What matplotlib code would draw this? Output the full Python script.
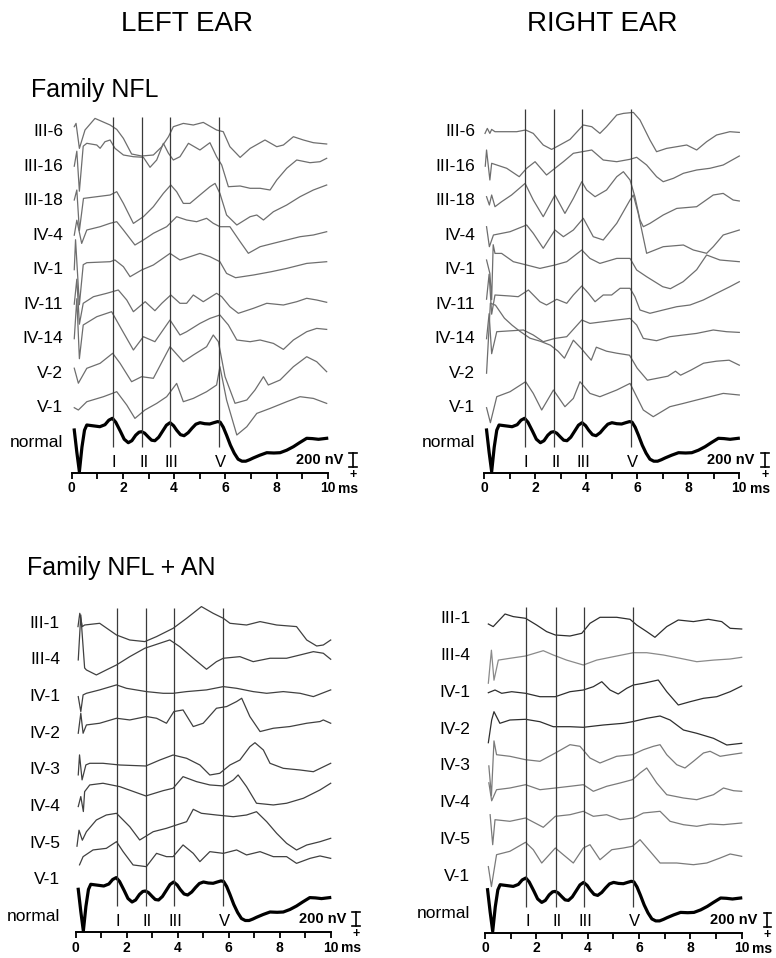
import matplotlib
matplotlib.use("Agg")
import matplotlib.pyplot as plt
from matplotlib.ticker import MultipleLocator

plt.rcParams['font.family'] = ['Liberation Sans', 'DejaVu Sans']

W, H = 776, 958

# ABR wave latencies (ms) and names
wave_ms = [1.6, 2.76, 3.85, 5.77]
wave_names = ["I", "II", "III", "V"]

# amplitudes in display units; 14 units = 200 nV
scale_units = 14

normal_trace = [(0.10, 12.2), (0.20, -10), (0.30, -29.5), (0.40, -5), (0.50, 12), (0.59, 17.2),
                (0.80, 16.5), (1.10, 15.5), (1.30, 17.5), (1.45, 22), (1.59, 23.9), (1.72, 20),
                (1.90, 11), (2.05, 3), (2.21, -0.5), (2.35, 1.5), (2.50, 7), (2.63, 10), (2.73, 10.5),
                (2.85, 9), (3.00, 5), (3.12, 2), (3.25, 1.5), (3.40, 5), (3.55, 11), (3.70, 17),
                (3.84, 19.5), (3.98, 16.5), (4.10, 12), (4.25, 7.5), (4.39, 6.5), (4.55, 9.5),
                (4.70, 14), (4.85, 18), (5.01, 19.5), (5.20, 18.5), (5.39, 18.2), (5.55, 19.5),
                (5.70, 20.6), (5.80, 20), (5.92, 15), (6.05, 7), (6.20, -3), (6.35, -11), (6.50, -17),
                (6.65, -19), (6.80, -19), (6.95, -17.5), (7.09, -15.8), (7.35, -13), (7.62, -10.5),
                (7.90, -10.8), (8.14, -10.5), (8.40, -8), (8.66, -4.5), (8.90, -0.5), (9.18, 3.9),
                (9.40, 3.6), (9.64, 2.9), (9.96, 3.9)]

# ---- Family NFL ----
nfl_ids = ["III-6", "III-16", "III-18", "IV-4", "IV-1", "IV-11", "IV-14", "V-2", "V-1"]

nfl_left = [
    [(0.10, 5), (0.17, 8.3), (0.30, -16.7), (0.52, 1.7), (0.91, 13.3), (1.50, 6.7), (1.76, 2.3),
     (2.02, -6.7), (2.34, -22.3), (2.73, -24.3), (3.19, -23.3), (3.52, -15), (3.78, -5), (3.97, 5),
     (4.36, 8.3), (4.75, 6.7), (5.14, 9.3), (5.66, 1.7), (5.92, 0), (6.18, -15), (6.58, -25.7),
     (6.97, -16.7), (7.55, -8.3), (8.01, -15), (8.27, -13.3), (8.66, -5), (9.05, -8.3), (9.44, -11),
     (9.96, -12.3)],
    [(0.10, 0), (0.20, 15), (0.30, -25), (0.45, 20), (0.59, 22.9), (0.98, 21.2), (1.11, 17.9),
     (1.30, 24.5), (1.50, 26.2), (1.69, 17.9), (2.02, 11.2), (2.41, 9.5), (2.80, 8.9), (3.06, -1.1),
     (3.32, 6.2), (3.58, 22.9), (3.78, 12.9), (3.97, 6.2), (4.23, 9.5), (4.56, 22.9), (5.01, 16.2),
     (5.40, 23.5), (5.66, 9.5), (5.86, 1.2), (6.12, -20.5), (6.58, -19.8), (6.97, -22.1),
     (7.36, -22.1), (7.75, -23.8), (8.01, -13.8), (8.40, -2.1), (8.79, 6.2), (9.31, 3.5),
     (9.70, 4.5), (9.96, 7.9)],
    [(0.10, 0.7), (0.20, 10.7), (0.30, -30), (0.46, 2.3), (0.98, 4), (1.50, 5.7), (1.76, 9),
     (2.02, -2.7), (2.41, -22.7), (2.80, -16), (3.19, -6), (3.58, 7.3), (3.87, 15.7), (4.10, 9),
     (4.36, -2.7), (4.62, -2.7), (5.01, 5.7), (5.40, 14), (5.60, 17.3), (5.79, 7.3), (6.05, -14.3),
     (6.45, -24.3), (6.97, -16), (7.23, -14.3), (7.49, -19.3), (7.88, -11), (8.40, -4.3), (8.92, 4),
     (9.44, 10.7), (9.96, 15.7)],
    [(0.10, 0), (0.20, 15), (0.39, -8.2), (0.59, 5.2), (1.11, 8.5), (1.50, 11.9), (1.76, 13.5),
     (2.02, 5.2), (2.47, -9.8), (2.80, -4.8), (3.19, 1.9), (3.71, 8.5), (4.10, 18.5), (4.49, 15.2),
     (4.88, 13.5), (5.27, 16.9), (5.53, 11.9), (5.79, 8.5), (6.18, 8.5), (6.58, -6.5), (6.90, -18.1),
     (7.36, -11.5), (7.88, -8.1), (8.40, -4.8), (8.92, -1.5), (9.44, 0.2), (9.96, 3.5)],
    [(0.10, 0), (0.15, 30), (0.30, -35), (0.45, 5), (0.59, 7), (1.50, 8), (1.69, 9.7), (2.02, 3),
     (2.28, -7), (2.73, -0.3), (3.19, 4.7), (3.84, 16.3), (4.23, 9.7), (5.01, 16.3), (5.40, 13),
     (5.79, 8), (6.05, -3.7), (6.40, -8), (7.10, -5.3), (7.80, -2), (8.40, 1.3), (9.18, 6.3),
     (9.96, 8)],
    [(0.10, 0), (0.20, 25), (0.30, -20), (0.45, 0.9), (0.85, 7.5), (1.37, 10.9), (1.82, 14.2),
     (2.15, 4.2), (2.41, -7.5), (2.87, 2.5), (3.25, -6.5), (3.52, 0.9), (3.87, 9.2), (4.23, 0.9),
     (4.49, 0.9), (4.75, 9.2), (5.14, 2.5), (5.66, 10.9), (5.86, 7.5), (6.18, -2.5), (6.51, -9.1),
     (7.10, -4.1), (7.62, 0.9), (8.27, -0.8), (8.79, 2.5), (9.18, 5.9), (9.57, 4.2), (9.96, 1.9)],
    [(0.10, 0), (0.20, 40), (0.30, -20), (0.45, 13.7), (0.98, 22), (1.56, 27), (1.89, 12),
     (2.41, -11.3), (2.80, 2), (3.25, -3), (3.84, 18.7), (4.23, 3.7), (4.49, 7), (5.01, 15.3),
     (5.40, 20.3), (5.79, 23.7), (6.12, 13.7), (6.45, -1.3), (6.97, -3), (7.36, -1.3), (7.88, -4.7),
     (8.27, -10.7), (8.66, -1.3), (9.18, 7), (9.57, 10.3), (9.96, 9.3)],
    [(0.10, 5), (0.26, -10), (0.59, 4.9), (1.11, 9.9), (1.60, 19.9), (1.89, 9.9), (2.34, -8.5),
     (2.73, -3.5), (3.19, -5.1), (3.84, 26.5), (4.36, 11.5), (4.75, 18.2), (5.27, 26.5), (5.53, 38.2),
     (5.73, 31.5), (5.99, -3.5), (6.38, -30.1), (6.84, -26.8), (7.16, -16.8), (7.49, -3.5),
     (7.68, -11.8), (8.14, -6.8), (8.66, 6.5), (9.18, 16.5), (9.57, 11.5), (9.96, 1.5)],
    [(0.10, 0), (0.26, -2.3), (0.59, 6), (1.24, 11), (1.76, 16), (2.15, 2.7), (2.47, -10.7),
     (2.86, -2.3), (3.32, 4.3), (3.71, 11), (4.10, 24.3), (4.36, 6), (4.75, 9.3), (5.27, 16),
     (5.66, 22.7), (5.79, 41), (6.05, 7.7), (6.45, -27.3), (6.84, -19), (7.23, -5.7), (7.75, -0.7),
     (8.40, 6), (8.92, 11), (9.44, 9.3), (9.96, 4.3)],
]

nfl_right = [
    [(0.04, -1.7), (0.13, 3.3), (0.23, -1.7), (0.30, 2.3), (0.43, 0), (0.69, 0), (1.28, 0), (1.63, 1.7),
     (1.93, -1.7), (2.32, -13.3), (2.65, -17.7), (2.85, -15), (3.37, -7.7), (3.89, 6.7), (4.22, 5),
     (4.54, -1.7), (4.80, 5), (5.20, 16.7), (5.46, 18.3), (5.85, 19.3), (6.11, 11.7), (6.50, -8.3),
     (6.76, -20), (7.15, -16.7), (7.55, -15), (7.94, -13.3), (8.33, -18.3), (8.72, -10), (9.11, -3.3),
     (9.63, 0), (10.0, -0.7)],
    [(0.05, 0), (0.10, 16.2), (0.23, -13.8), (0.30, 2.9), (0.50, 1.2), (0.89, -2.1), (1.38, -10.5),
     (1.67, -2.1), (2.00, 4.5), (2.45, -8.8), (2.78, -2.1), (3.11, 4.5), (3.50, 12.9), (4.22, 16.2),
     (4.67, 6.2), (5.20, 4.5), (5.72, 6.9), (5.98, 8.9), (6.37, 1.2), (6.76, -10.5), (7.02, -15.5),
     (7.42, -12.1), (7.81, -7.1), (8.33, -3.8), (8.85, -2.1), (9.37, 1.2), (10.0, 10.2)],
    [(0.10, 4), (0.21, -4.3), (0.30, 5.7), (0.43, -6), (0.69, -1), (1.08, 5.7), (1.61, 17.3),
     (1.93, 0.7), (2.32, -16), (2.78, 5.7), (3.17, -12.7), (3.50, 2.3), (3.83, 19), (4.02, 10.7),
     (4.35, 4), (4.80, 10.7), (5.20, 24), (5.46, 29), (5.72, 20.7), (5.91, 4), (6.11, -19.3),
     (6.24, -26), (6.50, -22.7), (7.02, -14.3), (7.55, -7.7), (8.33, -6), (8.98, 5.7), (9.37, 7.3),
     (9.76, 0.7), (10.0, -0.3)],
    [(0.10, 8.5), (0.21, -11.5), (0.37, 0.2), (1.02, 3.5), (1.67, 10.2), (1.93, 1.9), (2.32, -13.1),
     (2.78, 5.2), (3.11, -1.5), (3.50, 5.2), (3.89, 16.9), (4.28, -1.5), (4.67, -4.8), (5.20, 11.9),
     (5.72, 35.2), (5.85, 40.2), (6.04, 21.9), (6.37, -18.1), (7.02, -11.5), (7.81, -9.8),
     (8.20, -14.8), (8.72, -18.1), (8.98, -11.5), (9.37, 0.2), (10.0, 5.2)],
    [(0.10, 9.7), (0.23, -3.7), (0.30, -30), (0.36, 25), (0.43, 16.3), (0.69, 16.3), (1.15, 8),
     (1.67, 4.7), (2.19, 1.3), (2.78, 4.7), (3.24, 8), (3.83, 19.7), (4.15, 11.3), (4.54, 6.3),
     (5.20, 11.3), (5.72, 11.3), (5.98, -0.3), (6.37, -7), (7.00, -17), (7.30, -19), (7.80, -12),
     (8.33, 0), (8.72, 14.7), (9.24, 9.7), (10.0, 8)],
    [(0.10, 5), (0.20, 30), (0.30, -10), (0.43, 9.2), (1.02, 8.2), (1.34, 7.5), (1.74, 14.2),
     (2.19, 2.5), (2.45, -0.8), (2.85, 4.9), (3.24, 0.9), (3.50, 9.2), (3.83, 18.2), (4.09, 10.9),
     (4.35, 2.5), (4.67, 9.2), (5.00, 9.2), (5.33, 15.9), (5.72, 15.9), (5.91, 7.5), (6.11, -5.8),
     (6.50, -9.1), (7.02, -5.8), (7.55, -2.5), (8.07, -0.8), (8.59, 4.2), (9.11, 10.9), (9.63, 17.5),
     (10.0, 22.5)],
    [(0.10, 0), (0.20, 25), (0.30, -15), (0.50, 7), (1.54, 8.7), (1.93, 3.7), (2.32, -3), (2.78, 0.3),
     (3.24, 2), (3.83, 18.7), (4.15, 15.3), (4.67, 17), (5.20, 18.7), (5.72, 20.3), (5.98, 13.7),
     (6.24, 0.3), (6.76, -2), (7.28, 2), (7.81, 3.7), (8.33, 5.3), (8.98, 8.7), (9.50, 7), (10.0, 6.3)],
    [(0.10, 0), (0.25, 70), (0.45, 68), (0.80, 55), (1.10, 48), (1.40, 42), (1.80, 35), (2.20, 32),
     (2.60, 28), (2.90, 22), (3.15, 15), (3.50, 33), (3.80, 25), (4.20, 13), (4.40, 26), (4.80, 22),
     (5.20, 20), (5.70, 18), (6.00, 5), (6.40, -7), (6.80, -5), (7.20, -3), (7.50, 2), (7.70, -2),
     (8.10, 3), (8.60, 10), (9.10, 12), (9.60, 13), (10.0, 8)],
    [(0.10, 0), (0.25, -15), (0.50, 11), (1.02, 16), (1.63, 26), (1.93, 14.3), (2.26, -2.3),
     (2.72, 17.7), (3.17, 1), (3.50, 9.3), (3.76, 26), (4.15, 14.3), (4.54, 11), (5.20, 17.7),
     (5.72, 24.3), (5.98, 11), (6.24, -2.3), (6.63, -9), (7.28, 1), (7.81, 4.3), (8.33, 7.7),
     (8.85, 11), (9.37, 14.3), (10.0, 12.7)],
]

# ---- Family NFL + AN ----
an_ids = ["III-1", "III-4", "IV-1", "IV-2", "IV-3", "IV-4", "IV-5", "V-1"]

an_left = [
    [(0.09, -3.3), (0.16, 10), (0.26, -3.3), (0.35, -1.7), (0.94, 0), (1.60, -11.7), (2.12, -16.7),
     (2.71, -18.3), (3.17, -13.3), (3.82, -5), (4.35, 5), (4.93, 16.7), (5.39, 10), (5.79, 5),
     (6.05, 0), (6.70, -1.7), (7.23, 1.7), (7.88, -1.7), (8.66, -3.3), (9.06, -16.7), (9.45, -22.7),
     (9.71, -21.7), (10.0, -16.7)],
    [(0.10, 0), (0.20, 45), (0.35, -8), (0.42, -10), (0.81, -15), (1.20, -10), (1.60, -5), (2.12, 3.3),
     (2.71, 11.7), (3.30, 16.7), (3.69, 20), (4.08, 13.3), (4.61, 1.7), (5.13, -9.3), (5.52, -1.7),
     (5.79, 1.7), (6.44, 3.3), (6.96, -1.7), (7.62, 1.7), (8.27, 1.7), (8.80, 5), (9.32, 8.3),
     (9.71, 6.7), (10.0, 0.7)],
    [(0.10, 0), (0.20, -15), (0.29, 1.7), (0.42, 3.3), (0.94, 6.7), (1.60, 11.7), (1.99, 8.3),
     (2.77, 5), (3.43, 3.3), (3.82, 3.3), (4.35, 5), (5.13, 6.7), (5.79, 10), (6.31, 8.3), (6.96, 5),
     (7.49, 3.3), (8.14, 5), (8.80, 3.3), (9.32, 0), (10.0, 6.7)],
    [(0.10, 0), (0.20, 20), (0.29, 0), (0.42, 8.3), (0.94, 10), (1.60, 15), (2.12, 13.3), (2.77, 16.7),
     (3.17, 15), (3.56, 10), (3.85, 21.7), (4.21, 23.3), (4.61, 6.7), (5.00, 10), (5.52, 25),
     (5.92, 26.7), (6.31, 31.7), (6.51, 35), (6.83, 16.7), (7.23, 1.7), (7.75, 5), (8.40, 6.7),
     (9.06, 10), (9.58, 11.7), (9.71, 13.3), (10.0, 10)],
    [(0.10, -5), (0.15, 15), (0.25, -10), (0.40, 5), (0.55, 6.6), (1.07, 6.6), (1.73, 4.9), (2.75, 3.9),
     (3.30, 9.9), (3.82, 14.9), (4.35, 11.6), (4.87, 4.9), (5.26, -5.1), (5.65, -3.4), (6.05, 4.9),
     (6.44, 9.9), (6.83, 23.2), (7.03, 27.2), (7.36, 19.9), (7.62, 6.6), (8.14, 1.6), (8.80, -0.1),
     (9.32, -1.8), (10.0, 6.6)],
    [(0.10, 0), (0.20, 10), (0.30, -5), (0.35, 14.9), (0.55, 21.6), (1.07, 23.3), (1.73, 19.9),
     (2.75, 10.6), (3.43, 15.9), (3.82, 18.3), (4.21, 29.9), (4.74, 24.9), (5.26, 21.6), (5.79, 20.6),
     (6.18, 26.6), (6.37, 31.6), (6.70, 19.9), (7.09, 3.3), (7.75, 1.6), (8.27, 3.3), (8.93, 8.3),
     (9.58, 16.6), (10.0, 23.3)],
    [(0.05, -3), (0.13, 13), (0.26, 3), (0.42, 11.5), (0.81, 23.2), (1.20, 28.2), (1.60, 29.9),
     (2.12, 16.5), (2.51, 3.2), (3.04, 11.5), (3.56, 14.9), (3.95, 18.2), (4.35, 21.5), (4.61, 33.9),
     (4.93, 29.9), (5.52, 28.2), (6.18, 26.5), (6.70, 28.2), (7.09, 31.5), (7.49, 21.5), (7.88, 9.9),
     (8.27, -0.1), (8.66, -6.8), (9.06, -1.8), (9.58, 1.5), (10.0, 4.9)],
    [(0.15, 15), (0.29, 23.2), (0.68, 29.9), (1.20, 31.5), (1.60, 38.2), (1.86, 28.2), (2.25, 14.9),
     (2.77, 13.2), (3.17, 26.5), (3.56, 23.2), (3.82, 23.2), (4.21, 34.9), (4.61, 26.5), (4.87, 18.2),
     (5.26, 28.2), (5.79, 26.5), (6.31, 29.9), (6.70, 24.9), (7.23, 28.2), (7.75, 23.2), (8.27, 23.2),
     (8.66, 16.5), (9.19, 21.5), (9.58, 23.9), (10.0, 21.5)],
]

an_right = [
    [(0.13, -5.7), (0.32, -8.3), (0.78, 4.3), (1.10, 1.7), (1.58, 0), (2.01, -6.7), (2.40, -13.3),
     (2.74, -16.7), (3.31, -17.7), (3.77, -15), (4.09, -5), (4.48, 1), (5.13, 1), (5.65, -1),
     (5.91, -6.7), (6.30, -13.3), (6.62, -19), (7.08, -8.3), (7.53, -1.7), (8.12, -3.3), (8.70, -1),
     (9.22, -3.3), (9.55, -10), (10.0, -10.7)],
    [(0.13, -28), (0.25, 5), (0.35, -25), (0.52, -4.9), (0.97, -3.1), (1.58, -0.8), (2.27, 4.5),
     (2.66, 0.2), (3.18, -4.9), (3.83, -9.8), (4.35, -4.9), (5.00, -1.5), (5.78, 2.5), (6.30, 2.5),
     (6.95, 0.2), (7.60, -3.1), (8.25, -6.5), (8.90, -4.9), (9.55, -3.8), (10.0, -2.1)],
    [(0.13, -0.6), (0.39, 2.1), (0.65, -1.2), (1.04, 0.4), (1.58, -1.2), (2.14, -4.6), (2.74, -4.6),
     (3.31, 0.4), (3.83, 2.1), (4.22, 5.4), (4.55, 10.4), (4.87, 2.1), (5.19, -1.9), (5.52, 3.8),
     (5.78, 7.1), (6.17, 8.8), (6.75, 12.1), (7.08, 0.4), (7.53, -12.9), (7.99, -9.6), (8.51, -6.2),
     (9.03, -4.6), (9.55, 0.4), (10.0, 6.1)],
    [(0.13, -13.7), (0.26, 9), (0.35, 17.3), (0.58, 5.7), (0.97, 9), (1.58, 9.7), (2.14, 7.3),
     (2.66, 2.3), (3.31, 2.3), (3.83, 1.7), (4.61, 4), (5.39, 5.7), (5.74, 7.3), (6.30, 10.7),
     (6.82, 13), (7.21, 9), (7.73, -1), (8.25, -4.3), (8.90, -9.3), (9.42, -16), (10.0, -14.3)],
    [(0.15, 0), (0.25, -30), (0.35, 25), (0.45, 11.2), (0.97, 9.6), (1.58, 6.2), (2.14, 4.6),
     (2.74, 12.9), (3.31, 21.2), (3.70, 19.6), (4.09, 7.9), (4.48, 2.9), (5.13, 9.6), (5.74, 11.2),
     (6.17, 16.2), (6.56, 19.6), (6.82, 21.2), (7.08, 11.2), (7.47, 1.2), (7.79, -2.1), (8.12, 4.6),
     (8.51, 12.9), (8.77, 14.6), (9.16, 9.6), (9.55, 11.2), (10.0, 12.9)],
    [(0.15, 20), (0.26, 2), (0.45, 13.1), (0.97, 14.8), (1.58, 18.1), (2.14, 13.1), (2.74, 14.8),
     (3.31, 16.5), (3.83, 18.1), (4.22, 11.5), (4.74, 16.5), (5.26, 19.8), (5.74, 23.1), (6.04, 29.8),
     (6.30, 34.8), (6.69, 19.8), (7.08, 8.1), (7.73, 4.8), (8.25, 3.1), (8.90, 8.1), (9.29, 14.8),
     (9.68, 12.1), (10.0, 11.5)],
    [(0.20, 25), (0.30, -5), (0.39, 20), (0.97, 18.4), (1.58, 21.7), (2.27, 12.4), (2.74, 23.4),
     (3.31, 25), (3.83, 28.4), (4.22, 23.4), (4.74, 25), (5.26, 20), (5.78, 21.7), (6.17, 26.7),
     (6.82, 28.4), (7.21, 18.4), (7.73, 15), (8.25, 13.4), (8.77, 15.7), (9.29, 15), (10.0, 16.7)],
    [(0.13, 10), (0.25, -10), (0.45, 21.9), (0.97, 25.3), (1.58, 34.3), (1.88, 26.9), (2.21, 13.6),
     (2.74, 28.6), (3.05, 21.9), (3.44, 13.6), (3.83, 28.6), (4.09, 31.9), (4.48, 16.9), (4.94, 26.9),
     (5.39, 28.6), (5.74, 30.3), (6.04, 36.9), (6.43, 25.3), (6.82, 13.6), (7.47, 13.6), (8.12, 11.9),
     (8.64, 13.6), (9.16, 18.6), (9.55, 22.6), (10.0, 20.3)],
]

an_right_colors = ["#2e2e2e", "#8a8a8a", "#2e2e2e", "#2e2e2e", "#7a7a7a", "#7a7a7a", "#7a7a7a", "#7a7a7a"]

fig = plt.figure(figsize=(W / 100, H / 100), dpi=100)


def draw_panel(x0, x1, axis_y, ids, traces, colors, label_x, label_top, label_gap,
               normal_label_y, line_top):
    ax = fig.add_axes([x0 / W, 1 - axis_y / H, (x1 - x0) / W, 400 / H])
    ax.set_xlim(0, 10)
    ax.set_ylim(0, 400)
    ax.patch.set_alpha(0)

    for k, (name, pts) in enumerate(zip(ids, traces)):
        base = label_top - k * label_gap
        ax.plot([p[0] for p in pts], [base + p[1] for p in pts], color=colors[k], lw=0.9,
                clip_on=False, solid_joinstyle='round')
        ax.text(label_x, base, name, ha='right', va='center', fontsize=12.5)

    ax.plot([p[0] for p in normal_trace], [30.8 + p[1] for p in normal_trace], color='black',
            lw=2.3, clip_on=False, solid_joinstyle='round')
    ax.text(label_x, normal_label_y, "normal", ha='right', va='center', fontsize=12.5)

    ax.vlines(wave_ms, 26, line_top, color='#3a3a3a', lw=0.9)
    for tm, nm in zip(wave_ms, wave_names):
        ax.text(tm + 0.05, 11, nm, ha='center', va='center', fontsize=12)

    # scale bar
    ax.text(10.6, 13, "200 nV", ha='right', va='center', fontsize=10.5, fontweight='bold')
    ax.plot([11.0, 11.0], [6, 6 + scale_units], color='black', lw=1.2, clip_on=False)
    ax.plot([10.85, 11.15], [6, 6], color='black', lw=1.2, clip_on=False)
    ax.plot([10.85, 11.15], [6 + scale_units, 6 + scale_units], color='black', lw=1.2, clip_on=False)
    ax.text(11.0, -2, "+", ha='center', va='center', fontsize=9, fontweight='bold')
    ax.text(10.42, -16, "ms", ha='left', va='center', fontsize=10, fontweight='bold')

    for s in ['top', 'right', 'left']:
        ax.spines[s].set_visible(False)
    ax.spines['bottom'].set_linewidth(1.4)
    ax.set_yticks([])
    ax.set_xticks([0, 2, 4, 6, 8, 10])
    ax.xaxis.set_minor_locator(MultipleLocator(1))
    ax.tick_params(axis='x', which='both', direction='out', length=4, width=1.3, pad=2,
                   labelsize=10)
    for lab in ax.get_xticklabels():
        lab.set_fontweight('bold')
    return ax


gray = "#6e6e6e"
draw_panel(71.7, 327.7, 473, nfl_ids, nfl_left, [gray] * 9, -0.33, 341.3, 34.5, 30.8, 356)
draw_panel(484, 739.3, 473, nfl_ids, nfl_right, [gray] * 9, -0.35, 341.3, 34.5, 30.8, 364)
draw_panel(75.7, 330.7, 932.3, an_ids, an_left, ["#404040"] * 8, -0.62, 309, 36.65, 15.8, 324)
draw_panel(485, 741.7, 932.7, an_ids, an_right, an_right_colors, -0.58, 314.4, 36.9, 19.4, 326)

fig.text(187 / W, 1 - 31 / H, "LEFT EAR", ha='center', va='baseline', fontsize=20)
fig.text(602 / W, 1 - 31 / H, "RIGHT EAR", ha='center', va='baseline', fontsize=20)
fig.text(31 / W, 1 - 96.7 / H, "Family NFL", ha='left', va='baseline', fontsize=18)
fig.text(27 / W, 1 - 575 / H, "Family NFL + AN", ha='left', va='baseline', fontsize=18)

fig.savefig("out.png", dpi=100)
